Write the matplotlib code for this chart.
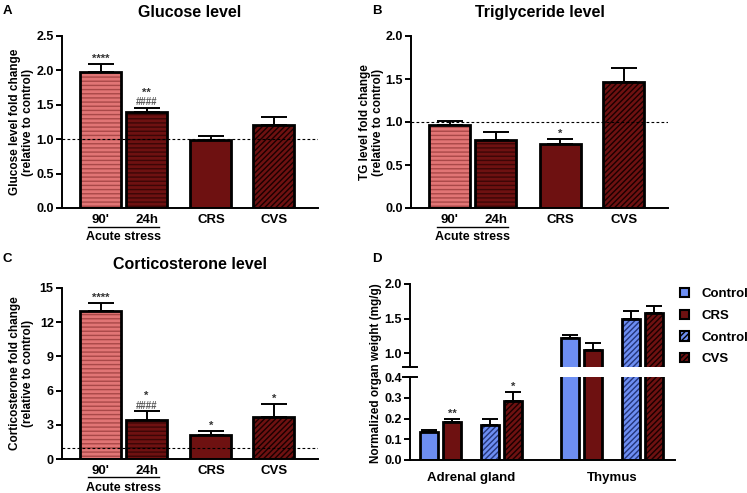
import matplotlib
matplotlib.use("Agg")
import matplotlib.pyplot as plt
from matplotlib.patches import Patch

plt.rcParams['font.family'] = ['Liberation Sans', 'DejaVu Sans']
plt.rcParams['font.weight'] = 'bold'
plt.rcParams['hatch.linewidth'] = 1.0

# ---------------- data ----------------
cats = ["90'", "24h", "CRS", "CVS"]
glucose = [1.98, 1.40, 0.99, 1.20]
glucose_err = [0.11, 0.06, 0.06, 0.12]
glucose_sig = ["****", "**\n####", "", ""]

tg = [0.96, 0.79, 0.74, 1.47]
tg_err = [0.05, 0.09, 0.06, 0.16]
tg_sig = ["", "", "*", ""]

cort = [13.0, 3.4, 2.1, 3.7]
cort_err = [0.7, 0.8, 0.4, 1.1]
cort_sig = ["****", "*\n####", "*", "*"]

organ_groups = ["Adrenal gland", "Thymus"]
organ_series = ["Control", "CRS", "Control", "CVS"]
adrenal = [0.135, 0.185, 0.170, 0.285]
adrenal_err = [0.008, 0.013, 0.027, 0.045]
adrenal_sig = ["", "**", "", "*"]
thymus = [1.22, 1.04, 1.50, 1.58]
thymus_err = [0.04, 0.10, 0.11, 0.10]

# ---------------- styles ----------------
SALMON = '#E17575'
SALMON_LINE = '#A94848'
DRED = '#6E1111'
DRED_LINE = '#3C0606'
BLUE = '#6D8EF2'
BLUE_LINE = '#24357A'

cat_styles = [
    dict(fc=SALMON, hatch='----', hc=SALMON_LINE),
    dict(fc=DRED, hatch='----', hc=DRED_LINE),
    dict(fc=DRED, hatch=None, hc=None),
    dict(fc=DRED, hatch='//////', hc='#1a0000'),
]
organ_styles = [
    dict(fc=BLUE, hatch=None, hc=None),
    dict(fc=DRED, hatch=None, hc=None),
    dict(fc=BLUE, hatch='//////', hc=BLUE_LINE),
    dict(fc=DRED, hatch='//////', hc='#1a0000'),
]

W, H = 747, 493
fig = plt.figure(figsize=(W / 100, H / 100), dpi=100)


def add_ax(x0, x1, ytop, ybot):
    return fig.add_axes([x0 / W, (H - ybot) / H, (x1 - x0) / W, (ybot - ytop) / H])


def draw_bar(ax, x, h, width, st):
    if st['hatch']:
        ax.bar(x, h, width, color=st['fc'], edgecolor=st['hc'], hatch=st['hatch'], linewidth=0, zorder=2)
    else:
        ax.bar(x, h, width, color=st['fc'], linewidth=0, zorder=2)
    ax.bar(x, h, width, fill=False, edgecolor='black', linewidth=2.0, zorder=3)


def style_ax(ax):
    for s in ['top', 'right']:
        ax.spines[s].set_visible(False)
    for s in ['left', 'bottom']:
        ax.spines[s].set_linewidth(1.4)
    ax.tick_params(axis='y', direction='out', length=4, width=1.4, labelsize=9, pad=2)
    ax.tick_params(axis='x', length=0, labelsize=9.5, pad=4)


pos = [0, 1, 2.4, 3.77]
bw = 0.89


def cat_panel(ax, vals, errs, sigs, ylim, yticks, ylabel, title, letter, lx, ly, lab_right, axx0, axw):
    span = ylim[1] - ylim[0]
    for i, (v, e) in enumerate(zip(vals, errs)):
        draw_bar(ax, pos[i], v, bw, cat_styles[i])
        ax.errorbar(pos[i], v, yerr=[[0], [e]], fmt='none', ecolor='black', elinewidth=1.4,
                    capsize=9.5, capthick=1.4, zorder=1)
        if sigs[i]:
            lines = sigs[i].split('\n')
            yy = v + e
            if len(lines) == 2:
                ax.text(pos[i], yy + span * 0.003, lines[1], ha='center', va='bottom', fontsize=7,
                        color='#555555')
                ax.text(pos[i], yy + span * 0.058, lines[0], ha='center', va='bottom',
                        fontsize=8, color='#333333')
            else:
                ax.text(pos[i], yy, lines[0], ha='center', va='bottom', fontsize=8,
                        color='#333333')
    ax.axhline(1.0, color='black', lw=0.8, ls=(0, (2.5, 2)), zorder=4)
    ax.set_xlim(-0.84, 4.73)
    ax.set_ylim(*ylim)
    ax.set_yticks(yticks)
    ax.set_xticks(pos)
    ax.set_xticklabels(cats, fontweight='bold')
    ax.set_ylabel(ylabel, fontsize=8.5, fontweight='bold', linespacing=1.15)
    ax.yaxis.set_label_coords((lab_right - axx0) / axw, 0.5)
    ax.set_title(title, fontsize=11.5, fontweight='bold', pad=14)
    style_ax(ax)
    # acute stress bracket
    ax.plot([-0.27, 1.27], [-0.108, -0.108], transform=ax.get_xaxis_transform(), color='black', lw=1.0,
            clip_on=False)
    ax.text(0.5, -0.133, 'Acute stress', transform=ax.get_xaxis_transform(), ha='center', va='top',
            fontsize=9, fontweight='bold')
    fig.text(lx / W, 1 - ly / H, letter, fontsize=9.5, fontweight='bold', ha='left', va='center')


def fmt1(vals):
    return ['%.1f' % v for v in vals]


axA = add_ax(62, 318, 36, 208)
cat_panel(axA, glucose, glucose_err, glucose_sig, (0, 2.5), [0, 0.5, 1.0, 1.5, 2.0, 2.5],
          'Glucose level fold change\n(relative to control)', 'Glucose level', 'A', 3, 11, 34, 62, 256)
axA.set_yticklabels(fmt1([0, 0.5, 1.0, 1.5, 2.0, 2.5]))

axB = add_ax(411, 668, 36, 208)
cat_panel(axB, tg, tg_err, tg_sig, (0, 2.0), [0, 0.5, 1.0, 1.5, 2.0],
          'TG level fold change\n(relative to control)', 'Triglyceride level', 'B', 372, 11, 384, 411, 257)
axB.set_yticklabels(fmt1([0, 0.5, 1.0, 1.5, 2.0]))

axC = add_ax(62, 318, 288, 459)
cat_panel(axC, cort, cort_err, cort_sig, (0, 15), [0, 3, 6, 9, 12, 15],
          'Corticosterone fold change\n(relative to control)', 'Corticosterone level', 'C', 3, 259, 34, 62, 256)

# ---------------- panel D ----------------
opos_ad = [0, 1, 2.65, 3.67]
opos_th = [6.13, 7.13, 8.8, 9.8]
obw = 0.78
axDl = add_ax(410, 675, 377, 460)
axDu = add_ax(410, 675, 284, 367)
for ax in (axDl, axDu):
    for i in range(4):
        draw_bar(ax, opos_ad[i], adrenal[i], obw, organ_styles[i])
        draw_bar(ax, opos_th[i], thymus[i], obw, organ_styles[i])
        ax.errorbar(opos_ad[i], adrenal[i], yerr=[[0], [adrenal_err[i]]], fmt='none', ecolor='black',
                    elinewidth=1.4, capsize=5.5, capthick=1.4, zorder=1)
        ax.errorbar(opos_th[i], thymus[i], yerr=[[0], [thymus_err[i]]], fmt='none', ecolor='black',
                    elinewidth=1.4, capsize=5.5, capthick=1.4, zorder=1)
    ax.set_xlim(-0.83, 10.7)
    style_ax(ax)

for i in range(4):
    if adrenal_sig[i]:
        axDl.text(opos_ad[i], adrenal[i] + adrenal_err[i], adrenal_sig[i], ha='center', va='bottom',
                  fontsize=8, color='#333333')

axDl.set_ylim(0, 0.4)
axDl.set_yticks([0, 0.1, 0.2, 0.3, 0.4])
axDl.set_yticklabels(fmt1([0, 0.1, 0.2, 0.3, 0.4]))
axDl.set_xticks([(opos_ad[0] + opos_ad[3]) / 2, (opos_th[0] + opos_th[3]) / 2])
axDl.set_xticklabels(organ_groups, fontweight='bold', fontsize=9.5)
axDl.tick_params(axis='x', pad=9)

axDu.set_ylim(0.8, 2.0)
axDu.set_yticks([1.0, 1.5, 2.0])
axDu.set_yticklabels(fmt1([1.0, 1.5, 2.0]))
axDu.spines['bottom'].set_visible(False)
axDu.set_xticks([])

# break marks
axDu.plot([-0.025, 0.025], [0, 0], transform=axDu.transAxes, color='black', lw=1.4, clip_on=False)
axDl.plot([-0.025, 0.025], [1, 1], transform=axDl.transAxes, color='black', lw=1.4, clip_on=False)

fig.text(376 / W, 1 - 373 / H, 'Normalized organ weight (mg/g)', rotation=90, ha='center', va='center',
         fontsize=8.5, fontweight='bold')
fig.text(372 / W, 1 - 259 / H, 'D', fontsize=9.5, fontweight='bold', ha='left', va='center')

handles = [Patch(facecolor=st['fc'], edgecolor='black', hatch=st['hatch'] if st['hatch'] else None,
                 linewidth=1.5) for st in organ_styles]
leg = fig.legend(handles, organ_series, loc='upper left', bbox_to_anchor=(676 / W, 1 - 284 / H),
                 frameon=False, handlelength=0.7, handleheight=0.7, labelspacing=0.72,
                 handletextpad=0.9, borderaxespad=0, borderpad=0.3,
                 prop=dict(size=9.5, weight='bold'))

fig.savefig('out.png', dpi=100)
